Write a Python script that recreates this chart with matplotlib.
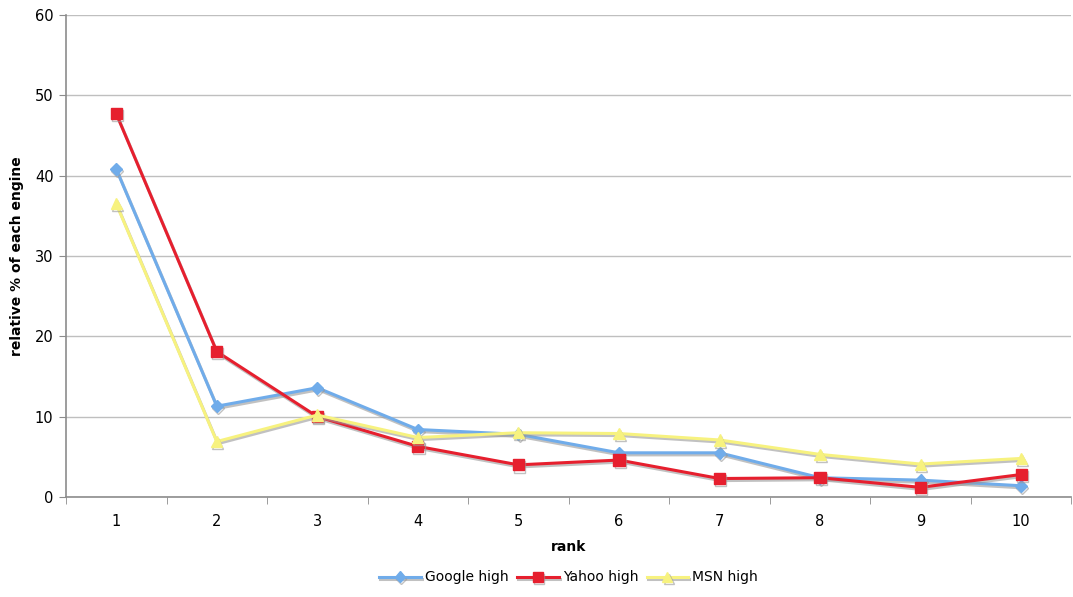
import matplotlib
matplotlib.use("Agg")
import matplotlib.pyplot as plt
import matplotlib.patheffects as pe
import numpy as np

# values
ranks = [1, 2, 3, 4, 5, 6, 7, 8, 9, 10]
google_high = [40.8, 11.3, 13.6, 8.4, 7.8, 5.5, 5.5, 2.4, 2.1, 1.4]
yahoo_high = [47.7, 18.1, 10.0, 6.3, 4.0, 4.6, 2.3, 2.4, 1.2, 2.8]
msn_high = [36.5, 6.9, 10.2, 7.4, 8.0, 7.9, 7.1, 5.3, 4.1, 4.8]
y_ticks = [0, 10, 20, 30, 40, 50, 60]

fig = plt.figure(figsize=(10.73, 5.97), dpi=100)
ax = fig.add_axes([0.0615, 0.1675, 0.937, 0.8075])

shadow = [pe.SimpleLineShadow(offset=(0.8, -1.5), shadow_color="0.6", alpha=0.6), pe.Normal()]

series = [
    ("Google high", google_high, "#70acea", "D", 6),
    ("Yahoo high", yahoo_high, "#e61f2e", "s", 8),
    ("MSN high", msn_high, "#f7f27f", "^", 8),
]
for label, vals, col, mk, ms in series:
    ax.plot(ranks, vals, color=col, lw=2.2, marker=mk, markersize=ms,
            markeredgecolor=col, label=label, path_effects=shadow)

ax.set_xlim(0.5, 10.5)
ax.set_ylim(0, 60)
ax.set_yticks(y_ticks)
ax.set_xticks(ranks)
ax.set_xticks(np.arange(0.5, 11, 1), minor=True)
ax.tick_params(axis="x", which="major", length=0, pad=12, labelsize=10.5)
ax.tick_params(axis="x", which="minor", length=5, color="0.55")
ax.tick_params(axis="y", length=5, color="0.55", labelsize=10.5, pad=4)

ax.grid(axis="y", color="0.75", lw=1)
ax.set_axisbelow(True)
for s in ["top", "right"]:
    ax.spines[s].set_visible(False)
for s in ["left", "bottom"]:
    ax.spines[s].set_color("0.55")
    ax.spines[s].set_linewidth(1.2)

ax.set_xlabel("rank", fontweight="bold", fontsize=10, labelpad=8)
ax.set_ylabel("relative % of each engine", fontweight="bold", fontsize=10, labelpad=8)

fig.legend(loc="lower center", bbox_to_anchor=(0.53, 0.0), ncol=3, frameon=False,
           fontsize=10, handlelength=3, columnspacing=0.6, handletextpad=0.3,
           markerscale=0.9)

fig.savefig("out.png", dpi=100, facecolor="white")
